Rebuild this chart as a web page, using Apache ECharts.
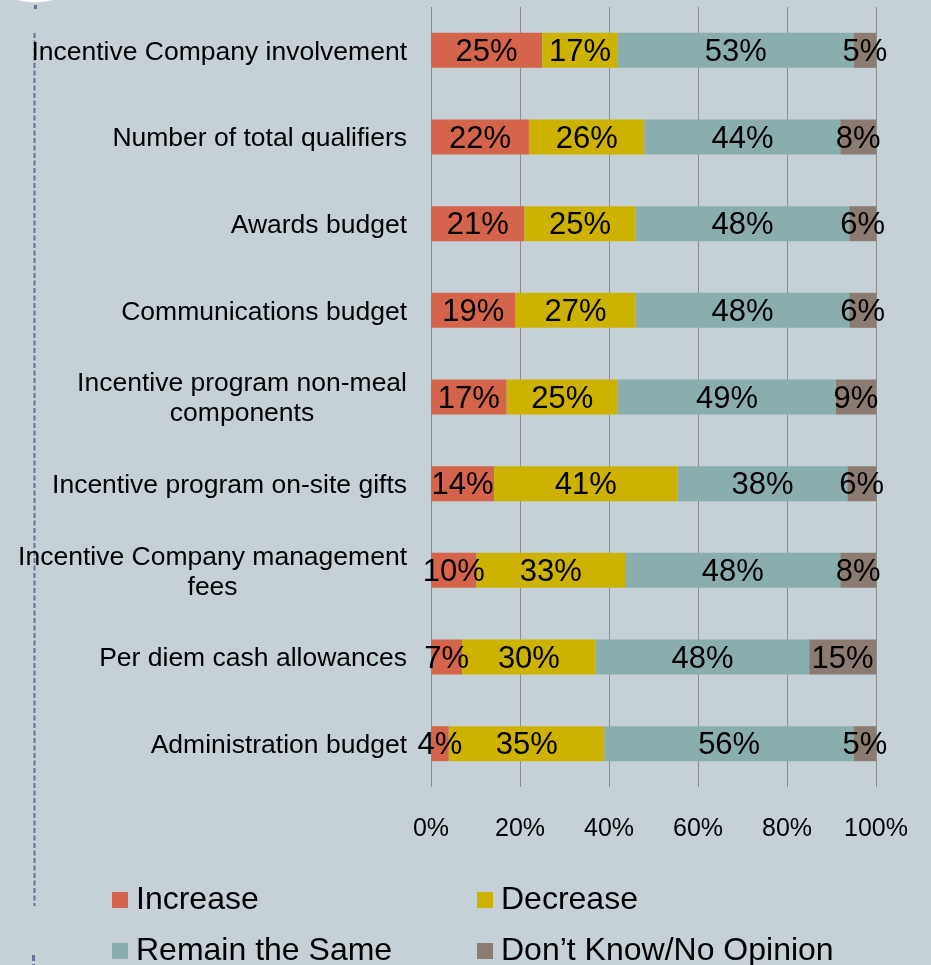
<!DOCTYPE html>
<html>
<head>
<meta charset="utf-8">
<style>
  html, body { margin: 0; padding: 0; background: #c5d0d7; }
  #main { width: 931px; height: 965px; }
</style>
<script src="https://cdn.jsdelivr.net/npm/echarts@6/dist/echarts.min.js"></script>
</head>
<body>
<div id="main"></div>
<script>
var categories = [
    'Incentive Company involvement',
    'Number of total qualifiers',
    'Awards budget',
    'Communications budget',
    'Incentive program non-meal\ncomponents',
    'Incentive program on-site gifts',
    'Incentive Company management\nfees',
    'Per diem cash allowances',
    'Administration budget'
];
var seriesNames = ['Increase', 'Decrease', 'Remain the Same', 'Don\u2019t Know/No Opinion'];
var increase  = [25, 22, 21, 19, 17, 14.2, 10.2, 7, 4];
var decrease  = [17, 26, 25, 27, 25, 41.2, 33.4, 30, 35];
var same      = [53, 44, 48, 48, 49, 38.2, 48.4, 48, 56];
var dontKnow  = [5, 8, 6, 6, 9, 6.4, 8, 15, 5];
var xTicks = [0, 20, 40, 60, 80, 100];

var colors = ['#d4644a', '#cdb300', '#8aaeae', '#8c7b72'];
var font = "'Liberation Sans', Arial, sans-serif";

var dom = document.getElementById('main');
var myChart = echarts.init(dom);

function makeSeries(name, data, color) {
    return {
        name: name,
        type: 'bar',
        stack: 'total',
        barWidth: 35,
        itemStyle: { color: color },
        label: {
            show: true,
            position: 'inside',
            offset: [0, 2],
            color: '#000',
            fontFamily: font,
            fontSize: 31,
            formatter: function (p) { return Math.round(p.value) + '%'; }
        },
        emphasis: { disabled: true },
        data: data
    };
}

// one legend per item so the two columns line up like the original
function makeLegend(name, left, top) {
    return {
        data: [name],
        left: left, top: top,
        itemWidth: 16, itemHeight: 16,
        icon: 'rect',
        textStyle: { fontSize: 32, color: '#000', fontFamily: font, padding: [0, 0, 0, 3] }
    };
}

var option = {
    backgroundColor: '#c5d0d7',
    animation: false,
    textStyle: { fontFamily: font },
    grid: { left: 431, right: 55, top: 7, bottom: 178 },
    legend: [
        makeLegend(seriesNames[0], 107, 879),
        makeLegend(seriesNames[1], 472, 879),
        makeLegend(seriesNames[2], 107, 930),
        makeLegend(seriesNames[3], 472, 930)
    ],
    xAxis: {
        type: 'value',
        min: xTicks[0],
        max: xTicks[xTicks.length - 1],
        interval: 20,
        axisLine: { show: false },
        axisTick: { show: false },
        splitLine: { show: true, lineStyle: { color: '#8c8c8c', width: 1 } },
        axisLabel: { fontSize: 25, color: '#000', margin: 30, formatter: '{value}%' }
    },
    yAxis: {
        type: 'category',
        inverse: true,
        data: categories,
        axisLine: { show: false },
        axisTick: { show: false },
        axisLabel: {
            margin: 24,
            color: '#000',
            fontSize: 26.5,
            lineHeight: 30,
            formatter: function (v) {
                return v.split('\n').map(function (s) { return '{c|' + s + '}'; }).join('\n');
            },
            rich: { c: { align: 'center', fontSize: 26.5, lineHeight: 30, color: '#000', fontFamily: font, padding: [4, 0, 0, 0] } }
        }
    },
    graphic: [
        { type: 'circle', shape: { cx: 35, cy: -63, r: 65.5 }, style: { fill: '#ffffff', stroke: '#e2e6e9', lineWidth: 0.5 } },
        { type: 'rect', shape: { x: 34, y: 5, width: 3, height: 4 }, style: { fill: '#6b7090' } },
        { type: 'line', shape: { x1: 34.5, y1: 33, x2: 34.5, y2: 906 }, style: { stroke: '#6b7090', lineWidth: 2, lineDash: [5, 2.5] } },
        { type: 'line', shape: { x1: 33.5, y1: 955, x2: 33.5, y2: 965 }, style: { stroke: '#6b7090', lineWidth: 3, lineDash: [6, 3] } }
    ],
    series: [
        makeSeries(seriesNames[0], increase, colors[0]),
        makeSeries(seriesNames[1], decrease, colors[1]),
        makeSeries(seriesNames[2], same, colors[2]),
        makeSeries(seriesNames[3], dontKnow, colors[3])
    ]
};

if (option && typeof option === 'object') {
    myChart.setOption(option, true);
}
</script>
</body>
</html>
